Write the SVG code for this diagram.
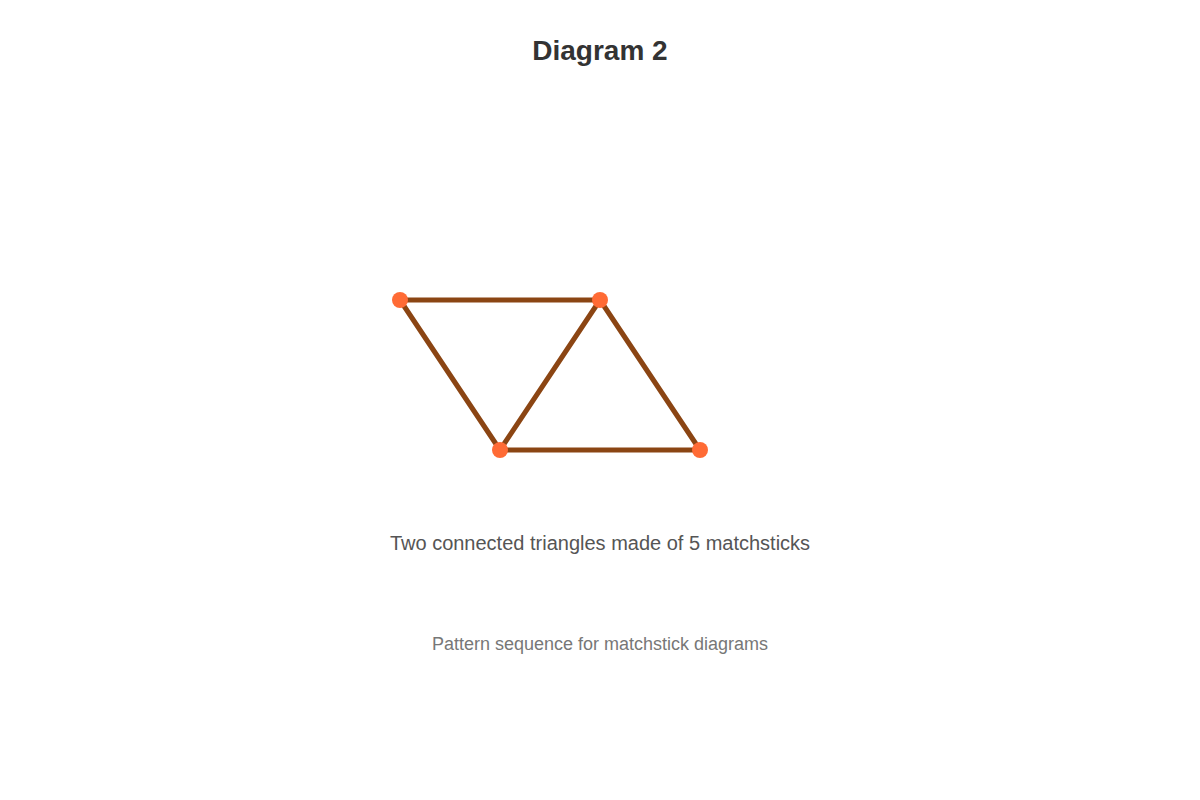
<svg xmlns="http://www.w3.org/2000/svg" width="1200" height="800" viewBox="0 0 1200 800">
<style>
.stick{stroke:#8B4513;stroke-width:5;stroke-linecap:round;fill:none}
.dot{fill:#FF6B35}
text{font-family:"Liberation Sans",Arial,sans-serif;text-anchor:middle}
.title{font-size:28px;font-weight:bold;fill:#333}
.cap{font-size:20px;fill:#555}
.foot{font-size:18px;fill:#777}
</style>
<rect width="1200" height="800" fill="#fff"/>
<text class="title" x="600" y="60">Diagram 2</text>
<g id="connectors">
<line class="stick" x1="400" y1="300" x2="600" y2="300"/>
<line class="stick" x1="400" y1="300" x2="500" y2="450"/>
<line class="stick" x1="600" y1="300" x2="500" y2="450"/>
<line class="stick" x1="600" y1="300" x2="700" y2="450"/>
<line class="stick" x1="500" y1="450" x2="700" y2="450"/>
</g>
<g id="node-a"><circle class="dot" cx="400" cy="300" r="8"/></g>
<g id="node-b"><circle class="dot" cx="600" cy="300" r="8"/></g>
<g id="node-c"><circle class="dot" cx="500" cy="450" r="8"/></g>
<g id="node-d"><circle class="dot" cx="700" cy="450" r="8"/></g>
<text class="cap" x="600" y="550">Two connected triangles made of 5 matchsticks</text>
<text class="foot" x="600" y="650">Pattern sequence for matchstick diagrams</text>
</svg>
